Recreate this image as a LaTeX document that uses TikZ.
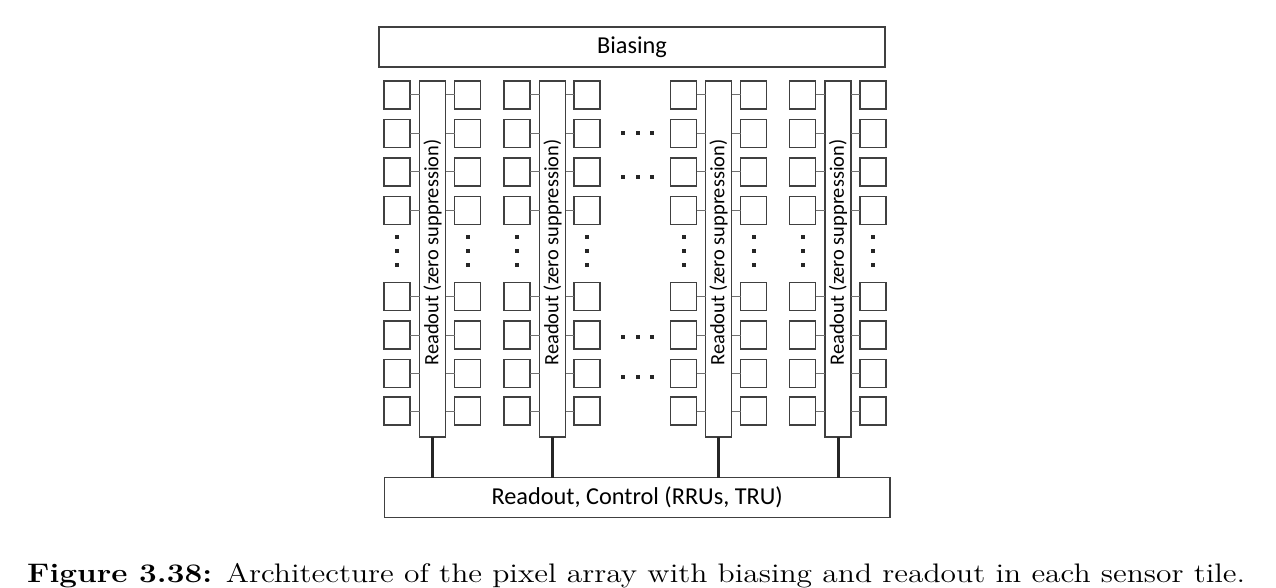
\documentclass[tikz,border=0pt]{standalone}
\usepackage{fontspec}
\newfontfamily\carl{Carlito}
\newfontfamily\capfont[BoldFont=lmroman12-bold.otf]{lmroman12-regular.otf}
\definecolor{boxc}{HTML}{404040}
\definecolor{connc}{HTML}{707070}
\definecolor{busc}{HTML}{262626}
\begin{document}
\begin{tikzpicture}[x=1pt,y=-1pt,
  box/.style={draw=boxc, line width=1.3pt, inner sep=0pt, outer sep=0pt},
  pix/.style={box, minimum width=26pt, minimum height=28pt, anchor=north west},
  rocol/.style={box, minimum width=26pt, minimum height=356pt, anchor=north west},
  bigbox/.style={box, minimum width=506pt, minimum height=40pt, font=\carl\fontsize{24.3}{28}\selectfont},
  rolabel/.style={inner sep=0pt, rotate=90, font=\carl\fontsize{20.4}{24}\selectfont},
  conn/.style={draw=connc, line width=1pt},
  bus/.style={draw=busc, line width=3pt},
  dotc/.style={fill=busc}]
\useasboundingbox (0,0) rectangle (1276,588);
\node[bigbox] (bias) at (632,47) {Biasing};
\node[bigbox, minimum width=505.7pt, minimum height=39.6pt] (bot) at (637.2,497.5) {Readout, Control (RRUs, TRU)};
\foreach \c/\xl/\xr/\xp in {1/384/419.5/454.5, 2/504/539.5/574, 3/670.5/705.5/740.5, 4/789.5/825/860} {
  \node[rocol] (r\c) at (\xr,81) {};
  \node[rolabel] (t\c) at ([yshift=6.5pt]r\c.center) {Readout (zero suppression)};
  \foreach \r/\y in {1/81,2/119.5,3/158,4/196.5,5/282.5,6/321,7/359.5,8/397} {
    \node[pix] (l\c-\r) at (\xl,\y) {};
    \node[pix] (q\c-\r) at (\xp,\y) {};
    \draw[conn] (l\c-\r.east) -- (l\c-\r.east -| r\c.west);
    \draw[conn] (q\c-\r.west) -- (q\c-\r.west -| r\c.east);
  }
  \foreach \yy in {237,251,265} {
    \fill[dotc] (\xl+11,\yy-2) rectangle (\xl+15,\yy+2);
    \fill[dotc] (\xp+11,\yy-2) rectangle (\xp+15,\yy+2);
  }
  \draw[bus] (r\c.south) -- (r\c.south |- bot.north);
}
\foreach \yy in {133.3,176.7,336.7,376.7} {
  \foreach \xx in {623.3,637.7,652.3} {
    \fill[dotc] (\xx-2,\yy-2) rectangle (\xx+2,\yy+2);
  }
}
\node[anchor=base west, inner sep=0pt, xscale=1.176, font=\capfont\fontsize{26.8}{31}\selectfont] (cap) at (27,582)
  {\makebox[1035.7pt][s]{\textbf{Figure 3.38:} Architecture of the pixel array with biasing and readout in each sensor tile.}};
\end{tikzpicture}
\end{document}
